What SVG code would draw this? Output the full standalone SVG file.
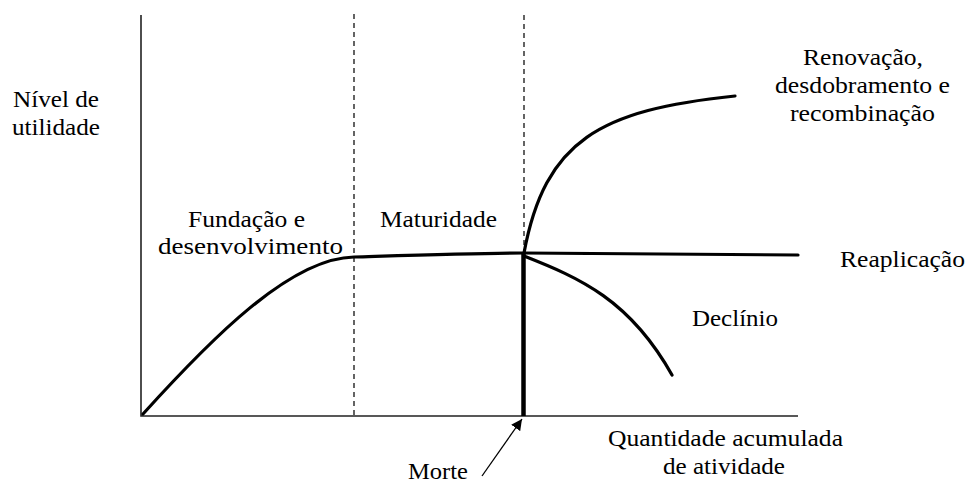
<svg xmlns="http://www.w3.org/2000/svg" width="967" height="485" viewBox="0 0 967 485">
<style>
text{font-family:"Liberation Serif","Times New Roman",serif;font-size:22.5px;fill:#000}
.axis{stroke:#222;stroke-width:1.6;fill:none}
.dash{stroke:#111;stroke-width:1.3;stroke-dasharray:5 4;fill:none}
.curve{stroke:#000;stroke-width:3.2;fill:none;stroke-linecap:round}
</style>
<defs>
<marker id="ah" viewBox="0 0 10 10" refX="10" refY="5" markerWidth="11" markerHeight="11" markerUnits="userSpaceOnUse" orient="auto">
<path d="M0,0 L10,5 L0,10 z" fill="#000"/>
</marker>
</defs>
<rect width="967" height="485" fill="#fff"/>
<g id="axes">
<path class="axis" d="M141,15 V416 H798"/>
<path class="dash" d="M354,14 V416"/>
<path class="dash" d="M524,15 V252"/>
</g>
<g id="connectors">
<path class="curve" d="M143,414 C210,340 290,258 354,257 C420,255 480,253 524,253 L798,255"/>
<path class="curve" d="M524,253 C545,140 600,110 735,96"/>
<path class="curve" d="M524,256 C580,278 630,300 672,375"/>
<path d="M523.5,253 V416" stroke="#000" stroke-width="4.5" fill="none"/>
<path d="M482,476 L522,419" stroke="#000" stroke-width="1.3" fill="none" marker-end="url(#ah)"/>
</g>
<g id="label-y"><text x="13" y="107" textLength="86" lengthAdjust="spacingAndGlyphs">Nível de</text><text x="12" y="135" textLength="88" lengthAdjust="spacingAndGlyphs">utilidade</text></g>
<g id="fundacao"><text x="188" y="227" textLength="117" lengthAdjust="spacingAndGlyphs">Fundação e</text><text x="158" y="254" textLength="185" lengthAdjust="spacingAndGlyphs">desenvolvimento</text></g>
<g id="maturidade"><text x="380" y="227" textLength="117" lengthAdjust="spacingAndGlyphs">Maturidade</text></g>
<g id="renovacao"><text x="803" y="65" textLength="120" lengthAdjust="spacingAndGlyphs">Renovação,</text><text x="775" y="93" textLength="175" lengthAdjust="spacingAndGlyphs">desdobramento e</text><text x="790" y="121" textLength="145" lengthAdjust="spacingAndGlyphs">recombinação</text></g>
<g id="reaplicacao"><text x="840" y="267" textLength="125" lengthAdjust="spacingAndGlyphs">Reaplicação</text></g>
<g id="declinio"><text x="692" y="326" textLength="86" lengthAdjust="spacingAndGlyphs">Declínio</text></g>
<g id="label-x"><text x="608" y="446" textLength="235" lengthAdjust="spacingAndGlyphs">Quantidade acumulada</text><text x="663" y="474" textLength="122" lengthAdjust="spacingAndGlyphs">de atividade</text></g>
<g id="morte"><text x="408" y="479" textLength="60" lengthAdjust="spacingAndGlyphs">Morte</text></g>
</svg>
